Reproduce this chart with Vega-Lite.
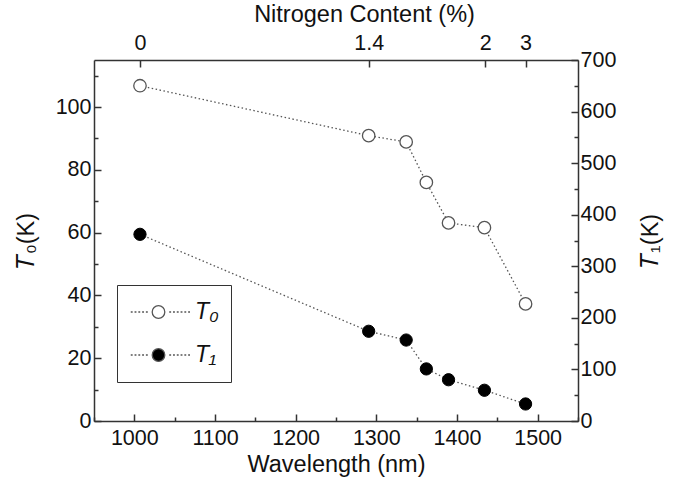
{
  "$schema": "https://vega.github.io/schema/vega-lite/v6.json",
  "width": 484,
  "height": 361,
  "autosize": "none",
  "padding": {"left": 94, "top": 60, "right": 107, "bottom": 66},
  "background": "white",
  "config": {
    "font": "Liberation Sans",
    "view": {"stroke": null},
    "axis": {
      "grid": false,
      "domainColor": "#333",
      "domainWidth": 1.5,
      "tickColor": "#333",
      "tickWidth": 1.5,
      "tickSize": -7,
      "labelColor": "#111",
      "titleColor": "#111",
      "labelFontSize": 21.5,
      "titleFontSize": 23.5,
      "titleFontWeight": "normal",
      "labelPadding": 8
    }
  },
  "data": {
    "values": [
      {"series": "T₀", "wl": 1007, "v": 106.8},
      {"series": "T₀", "wl": 1290.5, "v": 90.9},
      {"series": "T₀", "wl": 1337, "v": 88.9},
      {"series": "T₀", "wl": 1362, "v": 76.0},
      {"series": "T₀", "wl": 1389.5, "v": 63.1},
      {"series": "T₀", "wl": 1434, "v": 61.6},
      {"series": "T₀", "wl": 1485, "v": 37.3},
      {"series": "T₁", "wl": 1007, "v": 362},
      {"series": "T₁", "wl": 1290.5, "v": 174},
      {"series": "T₁", "wl": 1337, "v": 157},
      {"series": "T₁", "wl": 1362, "v": 101},
      {"series": "T₁", "wl": 1389.5, "v": 80},
      {"series": "T₁", "wl": 1434, "v": 59.6},
      {"series": "T₁", "wl": 1485, "v": 33}
    ]
  },
  "layer": [
    {
      "transform": [{"filter": "datum.series == 'T₀'"}],
      "encoding": {
        "x": {"field": "wl", "type": "quantitative", "scale": {"domain": [950, 1550], "nice": false, "zero": false},
              "axis": {"orient": "bottom", "values": [1000, 1100, 1200, 1300, 1400, 1500], "format": "d", "labelPadding": 13, "title": "Wavelength (nm)", "titlePadding": 4}},
        "y": {"field": "v", "type": "quantitative", "scale": {"domain": [0, 115], "nice": false, "zero": false},
              "axis": {"orient": "left", "values": [0, 20, 40, 60, 80, 100], "labelPadding": 10, "title": "𝑇₀(K)", "titlePadding": 17}}
      },
      "layer": [
        {"mark": {"type": "line", "strokeDash": [1.5, 2.5], "color": "#555", "strokeWidth": 1.3}},
        {"mark": {"type": "point", "filled": true, "size": 155, "stroke": "#555", "strokeWidth": 1.3, "opacity": 1},
         "encoding": {
           "fill": {"field": "series", "type": "nominal",
                    "scale": {"domain": ["T₀", "T₁"], "range": ["white", "black"]},
                    "legend": {
                      "orient": "none", "legendX": 23, "legendY": 225,
                      "title": null, "strokeColor": "#333", "padding": 12,
                      "clipHeight": 30, "rowPadding": 13,
                      "symbolType": "M1,0A1,1,0,1,1,-1,0A1,1,0,1,1,1,0Z M-5,0h0.3M-4.4,0h0.3M-3.8,0h0.3M-3.2,0h0.3M-2.6,0h0.3M-2,0h0.3M1.7,0h0.3M2.3,0h0.3M2.9,0h0.3M3.5,0h0.3M4.1,0h0.3M4.7,0h0.3",
                      "symbolSize": 159, "symbolStrokeColor": "#555", "symbolStrokeWidth": 1.3,
                      "symbolOffset": 18, "labelOffset": 25,
                      "labelFontSize": 23, "labelFontStyle": "italic", "labelColor": "#111"
                    }}
         }}
      ]
    },
    {
      "transform": [{"filter": "datum.series == 'T₁'"}],
      "encoding": {
        "x": {"field": "wl", "type": "quantitative", "scale": {"domain": [950, 1550], "nice": false, "zero": false},
              "axis": {"orient": "top", "values": [1007, 1290.5, 1435, 1485], "labelPadding": 13,
                       "labelExpr": "datum.value == 1007 ? '0' : datum.value == 1290.5 ? '1.4' : datum.value == 1435 ? '2' : '3'",
                       "title": "Nitrogen Content (%)", "titleX": 270, "titlePadding": 6}},
        "y": {"field": "v", "type": "quantitative", "scale": {"domain": [0, 700], "nice": false, "zero": false},
              "axis": {"orient": "right", "values": [0, 100, 200, 300, 400, 500, 600, 700], "labelPadding": 9, "title": "𝑇₁(K)", "titleAngle": 270, "titleBaseline": "top", "titlePadding": 23}}
      },
      "layer": [
        {"mark": {"type": "line", "strokeDash": [1.5, 2.5], "color": "#555", "strokeWidth": 1.3}},
        {"mark": {"type": "point", "filled": true, "size": 150, "fill": "black", "stroke": "black", "strokeWidth": 1, "opacity": 1}}
      ]
    },
    {
      "mark": {"type": "point", "opacity": 0},
      "transform": [{"filter": "datum.series == 'T₀'"}],
      "encoding": {
        "x": {"field": "wl", "type": "quantitative", "scale": {"domain": [950, 1550], "nice": false, "zero": false},
              "axis": {"orient": "bottom", "values": [950, 1050, 1150, 1250, 1350, 1450, 1550], "labels": false, "title": null, "domain": false, "tickSize": -4}},
        "y": {"field": "v", "type": "quantitative", "scale": {"domain": [0, 115], "nice": false, "zero": false},
              "axis": {"orient": "left", "values": [10, 30, 50, 70, 90, 110], "labels": false, "title": null, "domain": false, "tickSize": -4}}
      }
    },
    {
      "mark": {"type": "point", "opacity": 0},
      "transform": [{"filter": "datum.series == 'T₁'"}],
      "encoding": {
        "x": {"field": "wl", "type": "quantitative", "scale": {"domain": [950, 1550], "nice": false, "zero": false}, "axis": null},
        "y": {"field": "v", "type": "quantitative", "scale": {"domain": [0, 700], "nice": false, "zero": false},
              "axis": {"orient": "right", "values": [50, 150, 250, 350, 450, 550, 650], "labels": false, "title": null, "domain": false, "tickSize": -4}}
      }
    }
  ],
  "resolve": {"scale": {"x": "independent", "y": "independent"}}
}
